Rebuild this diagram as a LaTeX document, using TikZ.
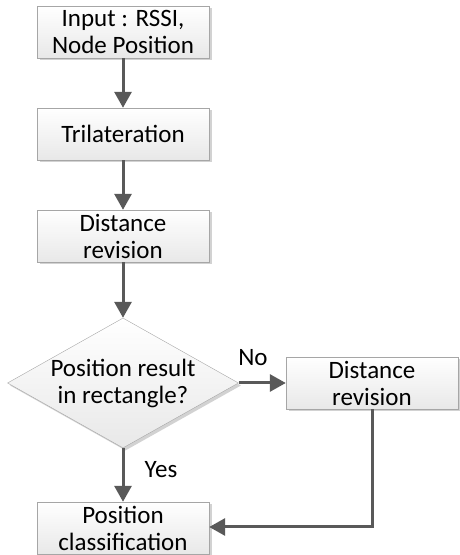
\documentclass[tikz,border=0pt]{standalone}
\usepackage{fontspec}
\setmainfont{Carlito}
\usepackage{tikz}
\usetikzlibrary{positioning, shapes.geometric, arrows.meta, shadows}
\tikzset{
	procbox/.style={draw=gray!70, top color=white, bottom color=gray!18,
		drop shadow={shadow xshift=2.5pt, shadow yshift=-2.5pt, fill=gray!35, opacity=1},
		minimum width=172pt, minimum height=52pt, inner sep=0pt, align=center,
		font=\fontsize{25}{27}\selectfont}
}
\tikzset{
	decbox/.style={diamond, aspect=1.78, draw=gray!70, top color=white, bottom color=gray!18,
		drop shadow={shadow xshift=2.5pt, shadow yshift=-2.5pt, fill=gray!35, opacity=1},
		minimum width=231pt, minimum height=130pt, inner sep=-3pt, align=center,
		font=\fontsize{25}{27}\selectfont}
}
\tikzset{
	flow/.style={draw=black!65, line width=3pt},
	flowlabel/.style={font=\fontsize{25}{27}\selectfont}
}
\begin{document}
\begin{tikzpicture}[x=1pt, y=1pt, >={Triangle[length=16pt, width=17pt]}]
      \useasboundingbox (0,0) rectangle (459,555);
      \node[procbox] (input) at (123,523) {Input : RSSI,\\Node Position};
      \node[procbox] (trilat) at (123,421) {Trilateration};
      \node[procbox] (dist) at (123,319) {Distance\\revision};
      \node[decbox] (inrect) at (123,172) {Position result\\in rectangle?};
      \node[procbox] (distrev) at (372,172) {Distance\\revision};
      \node[procbox] (classif) at (123,27) {Position\\classification};
      \draw[flow, ->] (input) -- (trilat);
      \draw[flow, ->] (trilat) -- (dist);
      \draw[flow, ->] (dist) -- (inrect);
      \draw[flow, ->] (inrect) -- (distrev);
      \draw[flow, ->] (inrect) -- (classif);
      \coordinate (back) at (372,28);
      \draw[flow, ->] (distrev.south) -- (back) -- (classif.east |- back);
      \node[flowlabel] (no) at (253,197) {No};
      \node[flowlabel] (yes) at (161,85) {Yes};
    \end{tikzpicture}
\end{document}
